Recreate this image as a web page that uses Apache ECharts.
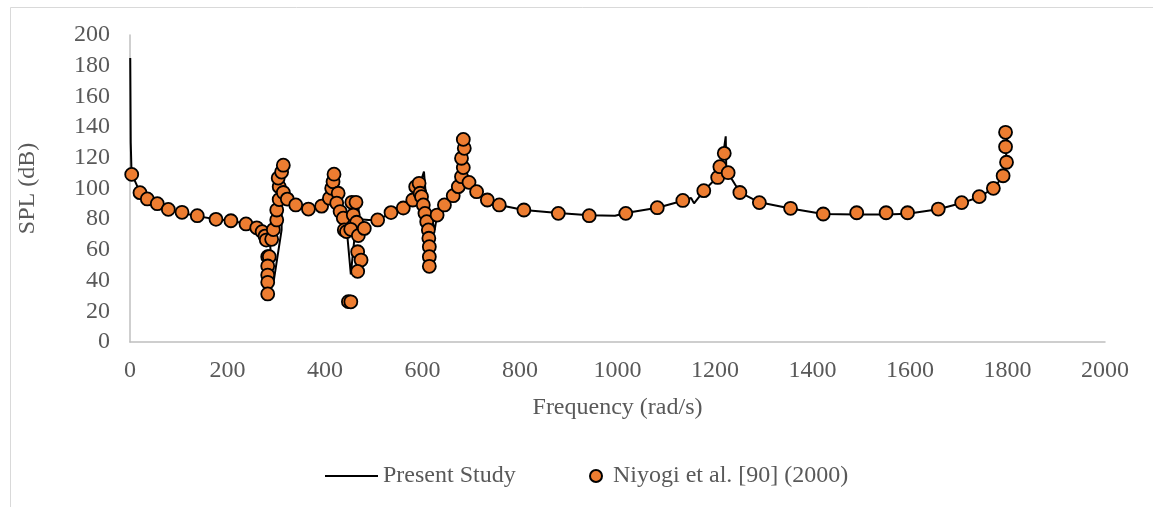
<!DOCTYPE html>
<html>
<head>
<meta charset="utf-8">
<script src="https://cdn.jsdelivr.net/npm/echarts@6/dist/echarts.min.js"></script>
<style>
  html, body { margin: 0; padding: 0; background: #fff; }
  #chart { width: 1153px; height: 507px; }
</style>
</head>
<body>
<div id="chart"></div>
<script>
// Axis ranges and tick spacing
const xTicks = { min: 0, max: 2000, interval: 200 };
const yTicks = { min: 0, max: 200, interval: 20 };

const seriesNames = ['Present Study', 'Niyogi et al. [90] (2000)'];

// Present study: [frequency (rad/s), SPL (dB)]
const presentStudy = [
  [0.5,185],[1.5,130],[3,112],[5,108.5],[20.5,97.5],[35.5,93.5],[56,90],[78.6,86.5],
  [107,84],[138,82],[176,80],[207,79],[238,77],[260,74.5],[272,72],[280,68],[287,65],
  [294,38],[311,73],[312,117],[316,97],[323,93],[340,89.5],[366,86.5],[393,88.5],
  [409,93.5],[416,101],[419,108],[422,97],[428,90],[432,85],[438,80.5],[445,72],
  [453,44],[468,92],[470,80],[490,79.5],[508,79.5],[535,84],[561,87],[580,92.5],
  [593,101],[603,111],[607,95],[625,73],[630,82.7],[645,89.5],[663,95],[673,101],
  [680,108],[686,126],[690,108],[696,103.5],[711,98],[733,92.5],[757,89.3],[808,86],
  [878,84],[942,82.5],[995,82.2],[998,83.5],[1017,84],[1082,87.5],[1134,92],
  [1151,93.8],[1157,90.3],[1177,98.5],[1205,107.5],[1215,118],[1222,134],[1223,115],
  [1227,110],[1251,97.5],[1291,91],[1355,87],[1422,83.4],[1491,83],[1551,83],
  [1595,83.5],[1658,86.5],[1706,90.5],[1742,94.5],[1771,100],[1791,108],[1797,120],
  [1800,138]
];

// Niyogi et al. (2000): [frequency (rad/s), SPL (dB)]
const niyogi = [
  [3.5,109.2],[20.5,97.3],[35.5,93.2],[56,90.1],[78.6,86.4],[106.7,84.5],[138,82.3],
  [176.4,79.9],[207,79],[238,76.9],[260,74.4],[271,71.9],[277,69],[279.5,66.4],[290.6,66.9],
  [282.5,55.6],[285.7,55.6],[282.5,49.5],[282.5,43.6],[282.5,38.9],[282.5,31.3],
  [294,73.2],[301,79.5],[301,86],[306,92.8],[306,101.2],[304,106.8],[311,110.7],
  [314.5,115.2],[314.5,97.4],[322.7,93.1],[340,89.3],[366,86.6],[393,88.5],[409,93.7],
  [413.7,100.1],[416.5,104.4],[418.5,109.3],[427,96.9],[424,90.5],[431,85],[437.5,80.7],
  [439.6,73],[444,71.9],[455,91],[463.6,91],[458,82.7],[465,78],[452.7,73.4],[468.4,69.3],
  [480.6,74],[467,58.8],[474,53.4],[467,46],[448,26.3],[453,26.2],[508,79.5],[535.4,84.3],
  [560.6,87.3],[580,92.5],[586,101.2],[593,103.4],[595,96.9],[598,94.7],[601.6,89.3],
  [605,83.8],[608.6,78.4],[612,73],[613,67.6],[614,62.1],[614,55.6],[614,49.3],
  [630,82.7],[645,89.3],[663,95.3],[673.4,101.2],[680,107.7],[683.7,113.6],[680,119.7],
  [685.7,126.2],[683.7,132],[695.4,104],[711,97.9],[733,92.5],[757.5,89.3],[808,86],
  [878.6,83.8],[942,82.3],[1017,83.8],[1081.6,87.5],[1134,92.2],[1177,98.6],[1205.5,107.2],
  [1210,114.2],[1219,122.9],[1227,110.3],[1251,97.4],[1291,90.8],[1355,87.1],[1422,83.4],
  [1490.7,84.2],[1551,84.2],[1595,84.2],[1658,86.6],[1706,90.8],[1742,94.7],[1771,100.1],
  [1791,108.3],[1798,117.1],[1796,127.2],[1796,136.6]
];

const textColor = '#595959';
const axisColor = '#bfbfbf';
const fontFamily = '"Liberation Serif", "Times New Roman", serif';
const fontSize = 24;

const chart = echarts.init(document.getElementById('chart'), null, { renderer: 'canvas' });

chart.setOption({
  backgroundColor: '#ffffff',
  animation: false,
  textStyle: { fontFamily: fontFamily, color: textColor },
  graphic: [{
    type: 'rect',
    left: 8, top: 5,
    shape: { width: 1160, height: 520 },
    style: { fill: 'none', stroke: '#d9d9d9', lineWidth: 1 },
    silent: true,
    z: -10
  }],
  grid: { left: 130, right: 48, top: 35, bottom: 165, containLabel: false },
  xAxis: {
    type: 'value',
    min: xTicks.min, max: xTicks.max, interval: xTicks.interval,
    name: 'Frequency (rad/s)',
    nameLocation: 'middle',
    nameGap: 54,
    nameTextStyle: { fontSize: fontSize, color: textColor, fontFamily: fontFamily },
    axisLine: { show: true, lineStyle: { color: axisColor, width: 1.5 } },
    axisTick: { show: false },
    splitLine: { show: false },
    axisLabel: {
      fontSize: fontSize, color: textColor, margin: 17, fontFamily: fontFamily,
      formatter: function (v) { return String(v); }
    }
  },
  yAxis: {
    type: 'value',
    min: yTicks.min, max: yTicks.max, interval: yTicks.interval,
    name: 'SPL (dB)',
    nameLocation: 'middle',
    nameRotate: 90,
    nameGap: 90,
    nameTextStyle: { fontSize: fontSize, color: textColor, fontFamily: fontFamily },
    axisLine: { show: true, lineStyle: { color: axisColor, width: 1.5 } },
    axisTick: { show: false },
    splitLine: { show: false },
    axisLabel: {
      fontSize: fontSize, color: textColor, margin: 20, fontFamily: fontFamily,
      formatter: function (v) { return String(v); }
    }
  },
  legend: [
    {
      data: [seriesNames[0]],
      left: 325, top: 464, padding: 0,
      icon: 'rect',
      itemWidth: 53, itemHeight: 2,
      textStyle: { fontSize: fontSize, color: textColor, fontFamily: fontFamily },
      itemStyle: { color: '#000000' }
    },
    {
      data: [seriesNames[1]],
      left: 589, top: 464, padding: 0,
      icon: 'circle',
      itemWidth: 12, itemHeight: 12,
      textStyle: { fontSize: fontSize, color: textColor, fontFamily: fontFamily, padding: [0, 0, 0, 6] }
    }
  ],
  series: [
    {
      name: seriesNames[0],
      type: 'line',
      data: presentStudy,
      showSymbol: false,
      symbol: 'none',
      lineStyle: { color: '#000000', width: 2 },
      itemStyle: { color: '#000000' },
      z: 2
    },
    {
      name: seriesNames[1],
      type: 'scatter',
      data: niyogi,
      symbol: 'circle',
      symbolSize: 13,
      itemStyle: { color: '#ED7D31', borderColor: '#000000', borderWidth: 1.8, opacity: 1 },
      z: 3
    }
  ]
});
</script>
</body>
</html>
